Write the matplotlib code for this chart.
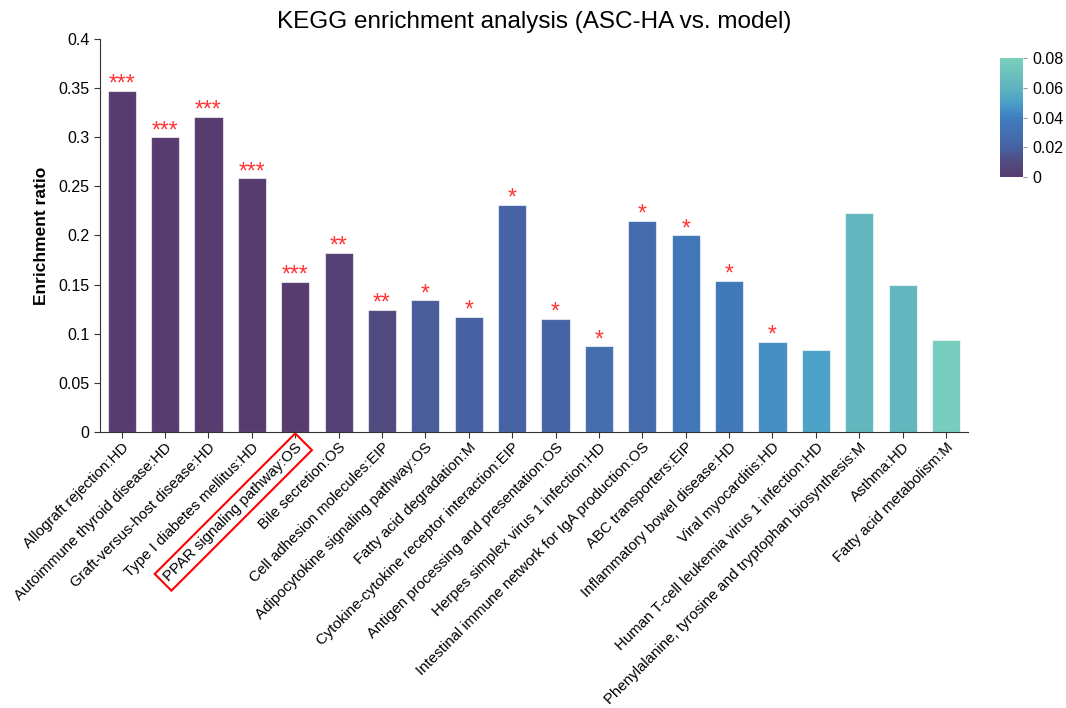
import matplotlib
matplotlib.use("Agg")
import matplotlib.pyplot as plt
from matplotlib.colors import LinearSegmentedColormap, Normalize
from matplotlib.cm import ScalarMappable
import numpy as np

plt.rcParams['font.family'] = ['Liberation Sans', 'DejaVu Sans']

# pathways (x axis)
pathways = ["Allograft rejection:HD", "Autoimmune thyroid disease:HD",
            "Graft-versus-host disease:HD", "Type I diabetes mellitus:HD",
            "PPAR signaling pathway:OS", "Bile secretion:OS",
            "Cell adhesion molecules:EIP", "Adipocytokine signaling pathway:OS",
            "Fatty acid degradation:M", "Cytokine-cytokine receptor interaction:EIP",
            "Antigen processing and presentation:OS", "Herpes simplex virus 1 infection:HD",
            "Intestinal immune network for IgA production:OS", "ABC transporters:EIP",
            "Inflammatory bowel disease:HD", "Viral myocarditis:HD",
            "Human T-cell leukemia virus 1 infection:HD",
            "Phenylalanine, tyrosine and tryptophan biosynthesis:M",
            "Asthma:HD", "Fatty acid metabolism:M"]

# enrichment ratio (bar height)
ratio = [0.347, 0.300, 0.321, 0.258, 0.153, 0.182, 0.124, 0.134, 0.117, 0.231,
         0.115, 0.087, 0.215, 0.200, 0.154, 0.092, 0.083, 0.223, 0.150, 0.094]

# p values (bar colour), estimated from colour bar
pvals = [0.0002, 0.0003, 0.0002, 0.0004, 0.0006, 0.004, 0.009, 0.018, 0.020, 0.022,
         0.022, 0.028, 0.027, 0.035, 0.036, 0.045, 0.051, 0.062, 0.062, 0.078]

highlight = "PPAR signaling pathway:OS"

# colour map similar to the one in the figure
cmap = LinearSegmentedColormap.from_list("kegg", [
    (0.0, "#583b6f"), (0.125, "#4f4c80"), (0.25, "#4761a2"), (0.375, "#4371b0"),
    (0.5, "#3f7dc0"), (0.625, "#4aa0c8"), (0.75, "#5fb3bd"), (1.0, "#7ad0bd")])
norm = Normalize(0, 0.08)


def stars(p):
    if p < 0.001:
        return "***"
    if p < 0.01:
        return "**"
    if p < 0.05:
        return "*"
    return ""


fig = plt.figure(figsize=(10.66, 7.08), dpi=100)
ax = fig.add_axes([0.0938, 0.390, 0.814, 0.555])

x = np.arange(len(pathways))
bars = ax.bar(x, ratio, width=0.65, color=cmap(norm(pvals)),
              edgecolor=(1, 1, 1, 0.6), linewidth=0.8)

for xi, r, p in zip(x, ratio, pvals):
    s = stars(p)
    if s:
        ax.text(xi, r - 0.005, s, ha='center', va='bottom', color='#ff3333',
                fontsize=16.5)

ax.set_xlim(-0.5, len(pathways) - 0.5)
ax.set_ylim(0, 0.4)
ax.set_yticks(np.arange(0, 0.41, 0.05))
ax.set_yticklabels(["0", "0.05", "0.1", "0.15", "0.2", "0.25", "0.3", "0.35", "0.4"])
ax.set_xticks(x)
ax.set_xticklabels(pathways, rotation=45, ha='right', rotation_mode='anchor')
ax.tick_params(axis='y', labelsize=11.5, direction='out', length=4, color='#333333')
ax.tick_params(axis='x', labelsize=10.8, direction='out', length=4, color='#333333', pad=2)

for lab in ax.get_xticklabels():
    if lab.get_text() == highlight:
        lab.set_bbox(dict(facecolor='none', edgecolor='red', linewidth=1.5, pad=3.5))

ax.spines['top'].set_visible(False)
ax.spines['right'].set_visible(False)
ax.spines['left'].set_color('#333333')
ax.spines['bottom'].set_color('#333333')

ax.set_ylabel("Enrichment ratio", fontsize=12.5, fontweight='bold', labelpad=7)
ax.set_title("KEGG enrichment analysis (ASC-HA vs. model)", fontsize=17.5, pad=8)

# colour bar
cax = fig.add_axes([0.938, 0.750, 0.0216, 0.168])
sm = ScalarMappable(norm=norm, cmap=cmap)
cb = fig.colorbar(sm, cax=cax)
cb.outline.set_visible(False)
cb.set_ticks([0, 0.02, 0.04, 0.06, 0.08])
cb.set_ticklabels(["0", "0.02", "0.04", "0.06", "0.08"])
cax.tick_params(labelsize=11.5, length=3, pad=4, color='#999999')

fig.savefig("out.png", dpi=100)
